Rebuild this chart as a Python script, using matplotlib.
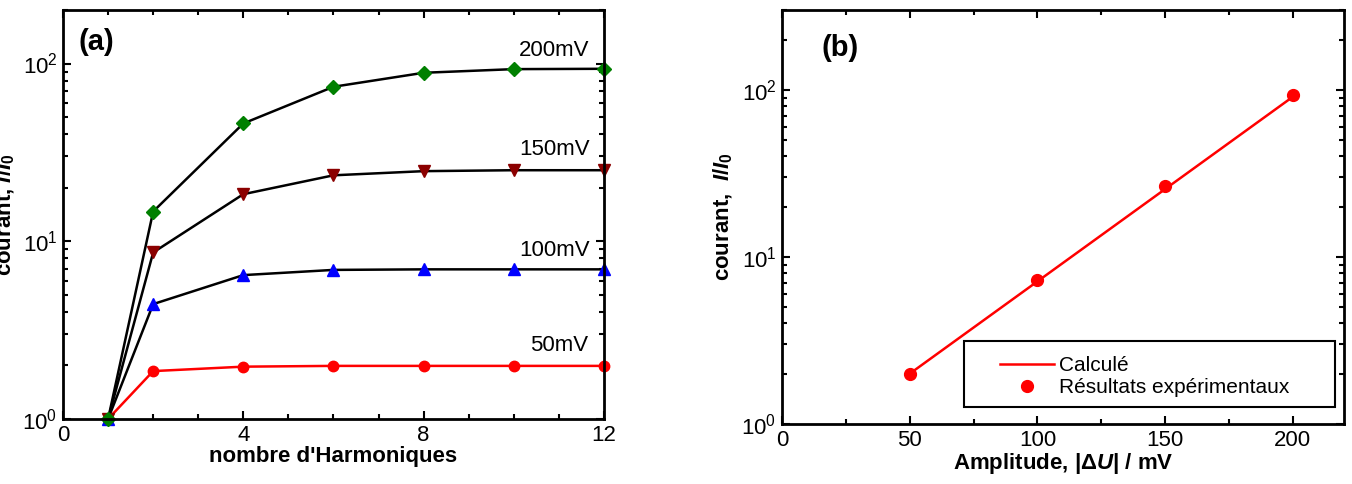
import numpy as np
import matplotlib
matplotlib.use('Agg')
import matplotlib.pyplot as plt
from matplotlib.ticker import MultipleLocator, LogLocator, NullFormatter
from matplotlib.patches import Rectangle

plt.rcParams['font.family'] = ['Liberation Sans', 'DejaVu Sans']
plt.rcParams['mathtext.fontset'] = 'custom'
plt.rcParams['mathtext.rm'] = 'Liberation Sans:bold'
plt.rcParams['mathtext.it'] = 'Liberation Sans:italic:bold'
plt.rcParams['mathtext.bf'] = 'Liberation Sans:bold'

# (a) courant vs nombre d'harmoniques
harm = [1, 2, 4, 6, 8, 10, 12]
i_50 = [1.0, 1.86, 1.97, 1.99, 1.99, 1.99, 1.99]
i_100 = [1.0, 4.43, 6.45, 6.9, 6.95, 6.95, 6.95]
i_150 = [1.0, 8.65, 18.4, 23.5, 24.8, 25.1, 25.1]
i_200 = [1.0, 14.7, 46.0, 74.0, 88.7, 93.0, 93.4]
amp_labels = ['50mV', '100mV', '150mV', '200mV']
label_x = [11.0, 10.9, 10.9, 10.9]
label_y = [2.6, 8.9, 33.0, 118.0]

# (b) courant vs amplitude
amp_exp = [50, 100, 150, 200]
i_exp = [2.0, 7.3, 26.4, 93.0]
amp_calc = [50, 200]
i_calc = [2.0, 91.0]

fig = plt.figure(figsize=(13.52, 4.84), dpi=100)
ax1 = fig.add_axes([0.0466, 0.1343, 0.4001, 0.845])
ax2 = fig.add_axes([0.5784, 0.124, 0.4157, 0.855])

lw = 1.8
ax1.plot(harm, i_50, '-', color='red', lw=lw, marker='o', ms=7.5, mfc='red', mec='red', clip_on=False)
ax1.plot(harm, i_100, '-', color='black', lw=lw, marker='^', ms=9, mfc='blue', mec='blue', clip_on=False)
ax1.plot(harm, i_150, '-', color='black', lw=lw, marker='v', ms=9, mfc='#8b0000', mec='#8b0000', clip_on=False)
ax1.plot(harm, i_200, '-', color='black', lw=lw, marker='D', ms=7, mfc='green', mec='green', clip_on=False)
for t, xx, yy in zip(amp_labels, label_x, label_y):
    ax1.text(xx, yy, t, fontsize=16, ha='center', va='center')

ax1.set_xlim(0, 12)
ax1.set_ylim(1, 200)
ax1.set_yscale('log')
ax1.xaxis.set_major_locator(MultipleLocator(4))
ax1.xaxis.set_minor_locator(MultipleLocator(1))
ax1.set_xlabel("nombre d'Harmoniques", fontsize=16, fontweight='bold', labelpad=0)
ax1.set_ylabel(r'courant, $\mathit{I/I_0}$', fontsize=16, fontweight='bold')
ax1.yaxis.set_label_coords(-0.085, 0.5)
ax1.text(0.028, 0.956, '(a)', transform=ax1.transAxes, fontsize=21,
         fontweight='bold', va='top', ha='left')

ax2.plot(amp_calc, i_calc, '-', color='red', lw=1.8, label='Calculé')
ax2.plot(amp_exp, i_exp, 'o', color='red', ms=8.5, label='Résultats expérimentaux')
ax2.set_xlim(0, 220)
ax2.set_ylim(1, 300)
ax2.set_yscale('log')
ax2.xaxis.set_major_locator(MultipleLocator(50))
ax2.xaxis.set_minor_locator(MultipleLocator(25))
ax2.set_xlabel(r'Amplitude, |$\Delta\mathit{U}$| / mV', fontsize=16, fontweight='bold', labelpad=0)
ax2.set_ylabel(r'courant,  $\mathit{I/I_0}$', fontsize=16, fontweight='bold')
ax2.yaxis.set_label_coords(-0.084, 0.5)
ax2.text(0.071, 0.942, '(b)', transform=ax2.transAxes, fontsize=21,
         fontweight='bold', va='top', ha='left')

ax2.add_patch(Rectangle((0.323, 0.04), 0.661, 0.16, transform=ax2.transAxes,
                        fill=True, fc='white', ec='black', lw=1.5, zorder=3))
ax2.legend(loc='center left', bbox_to_anchor=(0.388, 0.115), frameon=False,
           fontsize=15, borderpad=0, borderaxespad=0, handlelength=2.6,
           handletextpad=0.25, labelspacing=0.15).set_zorder(4)

for ax in (ax1, ax2):
    ax.yaxis.set_major_locator(LogLocator(base=10, numticks=10))
    ax.yaxis.set_minor_locator(LogLocator(base=10, subs=np.arange(2, 10), numticks=20))
    ax.yaxis.set_minor_formatter(NullFormatter())
    ax.tick_params(which='both', direction='in', top=True, right=True, width=1.5,
                   labelsize=16)
    ax.tick_params(which='major', length=6, pad=4)
    ax.tick_params(which='minor', length=3.5)
    for s in ax.spines.values():
        s.set_linewidth(2)

fig.savefig('out.png', dpi=100)
